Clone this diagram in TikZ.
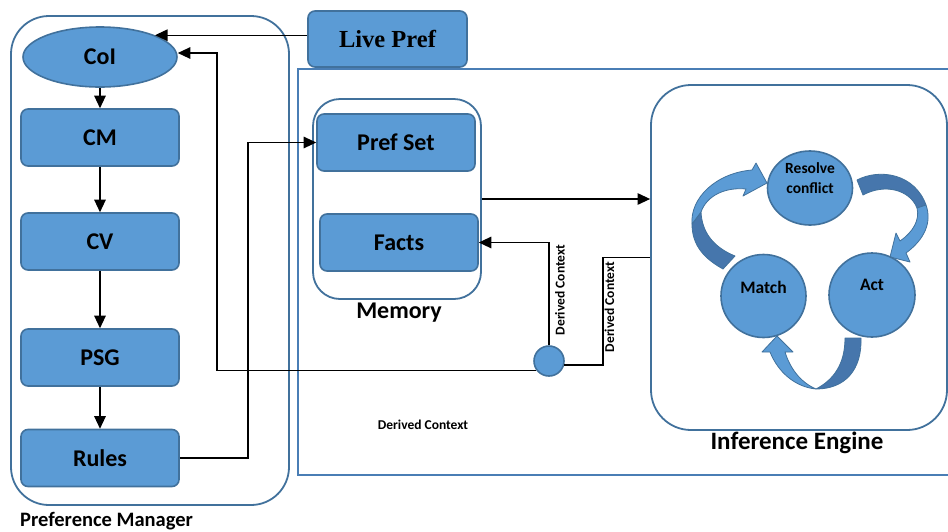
\documentclass[tikz,border=0pt]{standalone}
\usepackage{fontspec}
\setmainfont{Carlito}
\newfontfamily\livefont{Liberation Serif}
\usetikzlibrary{arrows.meta,calc,shapes.geometric}
\definecolor{boxfill}{HTML}{5B9BD5}
\definecolor{boxline}{HTML}{41719C}
\definecolor{backface}{HTML}{4676AC}
\definecolor{frameline}{HTML}{4A7EB5}

\begin{document}
\begin{tikzpicture}[x=1pt,y=-1pt,
  blk/.style={draw=boxline, line width=1.6pt, fill=boxfill, rounded corners=7pt,
    minimum width=158pt, minimum height=57pt, inner sep=0pt,
    font=\bfseries\fontsize{24}{28}\selectfont},
  oval/.style={ellipse, draw=boxline, line width=1.6pt, fill=boxfill, inner sep=0pt},
  container/.style={draw=boxline, line width=1.8pt, inner sep=0pt},
  title/.style={font=\bfseries\fontsize{24}{28}\selectfont, inner sep=0pt},
  ctx/.style={font=\bfseries\fontsize{13.5}{16}\selectfont, inner sep=0pt},
  cyctext/.style={font=\bfseries\fontsize{17.5}{20}\selectfont, inner sep=0pt},
  arr/.style={-{Triangle[length=12.5pt,width=11.5pt]}, line width=1.2pt},
  wire/.style={line width=1.2pt},
  front/.style={fill=boxfill, draw=boxline, line width=0.8pt, line join=round},
  back/.style={fill=backface, draw=boxline, line width=0.8pt, line join=round}
]
\useasboundingbox (0,0) rectangle (948,531);

% frame around memory and inference engine
\draw[frameline, line width=1.8pt] (298,69) rectangle (962,475);

% containers
\node[container, rounded corners=38pt, minimum width=278pt, minimum height=489pt] (pm) at (150,260.5) {};
\node[container, rounded corners=27pt, minimum width=168pt, minimum height=200pt] (memory) at (397,199) {};
\node[container, rounded corners=40pt, minimum width=296pt, minimum height=345pt] (ie) at (799,257.5) {};

% preference manager pipeline
\node[oval, minimum width=154pt, minimum height=60pt, font=\bfseries\fontsize{24}{28}\selectfont] (coi) at (100,57) {CoI};
\node[blk] (cm) at (100,137.5) {CM};
\node[blk] (cv) at (100,241.5) {CV};
\node[blk] (psg) at (100,357.5) {PSG};
\node[blk] (rules) at (100,458) {Rules};

\node[blk, minimum width=159pt, minimum height=56pt,
  font=\livefont\bfseries\fontsize{24.5}{28}\selectfont] (live) at (387.5,39) {Live Pref};

% memory contents
\node[blk] (prefset) at (396,142.5) {Pref Set};
\node[blk] (facts) at (399,242.5) {Facts};

% junction of the derived context
\node[circle, draw=boxline, fill=boxfill, line width=1.6pt, minimum size=30pt, inner sep=0pt] (dot) at (549,361) {};

% titles
\node[title, anchor=base west, font=\bfseries\fontsize{20.5}{24}\selectfont] (pmlabel) at (20,526.5) {Preference Manager};
\node[title] (memlabel) at (399,313) {Memory};
\node[title, font=\bfseries\fontsize{25}{28}\selectfont] (ielabel) at (797,443) {Inference Engine};

% connectors
\draw[arr] (coi.south) -- (cm.north);
\draw[arr] (cm.south) -- (cv.north);
\draw[arr] (cv.south) -- (psg.north);
\draw[arr] (psg.south) -- (rules.north);
\draw[arr] (live.west |- coi.north east) -- (coi.north east);

\coordinate (loopx) at (217,53);
\draw[arr] (dot.217) -| (loopx) -- (loopx -| coi.east);

\coordinate (ruleturn) at (248,300);
\draw[arr] (rules.east) -| (ruleturn |- prefset.west) -- (prefset.west);

\draw[arr] (memory.east) -- (memory.east -| ie.west);
\draw[arr] (dot.north) |- (facts.east);

\coordinate (ctxturn) at (603,300);
\draw[wire] (dot.-15) -| (ctxturn |- ie.west) -- (ie.west);

\node[ctx, rotate=90] (ctxa) at (560,290) {Derived Context};
\node[ctx, rotate=90] (ctxb) at (609.5,307) {Derived Context};
\node[ctx] (ctxc) at (423,425) {Derived Context};

% recognise-act cycle: curved block arrows
% match -> resolve conflict
\path[back] (692,224) .. controls (692,246) and (705,259) .. (723,269) -- (735,256)
  .. controls (713,247) and (702,232) .. (701,212) -- cycle;
\path[front] (692,224) .. controls (690,198) and (716,173) .. (752,170) -- (756,163)
  -- (767,183) -- (743,196) -- (746,189) .. controls (726,187) and (707,195) .. (701,212) -- cycle;
% resolve conflict -> act
\path[back] (857,180) .. controls (880,168) and (915,174) .. (926,205) -- (917,208)
  .. controls (910,190) and (885,183) .. (863,195) -- cycle;
\path[front] (926,205) .. controls (932,222) and (925,239) .. (906,253) -- (910,262)
  -- (890,257) -- (896,233) -- (900,241) .. controls (913,232) and (920,220) .. (917,208) -- cycle;
% act -> match
\path[back] (845,338) -- (861,338) .. controls (862,370) and (845,389) .. (816,389)
  .. controls (833,380) and (845,365) .. (845,338) -- cycle;
\path[front] (816,389) .. controls (795,387) and (778,372) .. (770,352) -- (762,352)
  -- (777,336) -- (793,352) -- (785,352) .. controls (790,368) and (800,382) .. (816,389) -- cycle;

\node[oval, minimum width=85pt, minimum height=74pt] (resolve) at (810,188) {};
\node[oval, minimum width=85pt, minimum height=83pt] (match) at (763.5,296) {};
\node[oval, minimum width=86pt, minimum height=84pt] (act) at (872,295) {};

\node[font=\bfseries\fontsize{15.5}{20}\selectfont, align=center, inner sep=0pt] (resolvetext) at (810,178) {Resolve\\conflict};
\node[cyctext] (matchtext) at (763.5,287) {Match};
\node[cyctext] (acttext) at (872,285) {Act};
\end{tikzpicture}
\end{document}
